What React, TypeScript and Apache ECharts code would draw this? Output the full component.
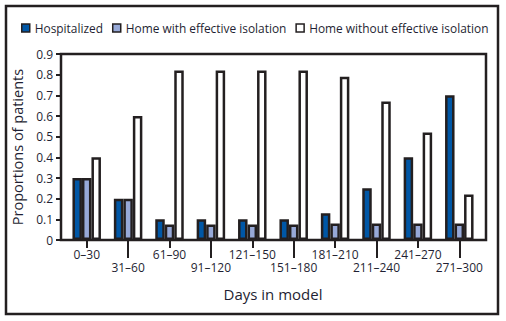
import React, { useEffect, useRef } from "react";
import * as echarts from "echarts";

const categories = ["0–30", "31–60", "61–90", "91–120", "121–150", "151–180", "181–210", "211–240", "241–270", "271–300"];
const hospitalized = [0.3, 0.2, 0.1, 0.1, 0.1, 0.1, 0.13, 0.25, 0.4, 0.7];
const homeWithIsolation = [0.3, 0.2, 0.075, 0.075, 0.075, 0.075, 0.08, 0.08, 0.08, 0.08];
const homeWithoutIsolation = [0.4, 0.6, 0.82, 0.82, 0.82, 0.82, 0.79, 0.67, 0.52, 0.22];
const seriesNames = ["Hospitalized", "Home with effective isolation", "Home without effective isolation"];

const INK = "#231f20";
const TEXT = "#1f1f33";
const FONT = "Open Sans";

export default function App() {
  const ref = useRef<HTMLDivElement>(null);
  useEffect(() => {
    if (!ref.current) return;
    const chart = echarts.init(ref.current, undefined, { renderer: "svg" });
    const barStyle = (color: string) => ({ color, borderColor: INK, borderWidth: 2.5 });
    const xBase = {
      type: "category" as const,
      data: categories,
      position: "bottom" as const,
      offset: 0,
      axisLine: { show: false },
      splitLine: { show: false },
    };
    chart.setOption({
      animation: false,
      textStyle: { fontFamily: FONT, color: TEXT },
      legend: {
        left: 16,
        top: 17,
        width: 490,
        itemWidth: 8,
        itemHeight: 8,
        itemGap: 9,
        icon: "rect",
        itemStyle: { borderColor: INK, borderWidth: 1.5 },
        textStyle: { fontFamily: FONT, fontSize: 11.9, color: TEXT },
        data: seriesNames,
      },
      grid: { left: 66, right: 26, top: 54, bottom: 81 },
      xAxis: [
        {
          ...xBase,
          name: "Days in model",
          nameLocation: "middle",
          nameGap: 46,
          nameTextStyle: { fontFamily: FONT, fontSize: 15, color: TEXT },
          axisTick: {
            show: true,
            alignWithLabel: true,
            interval: (i: number) => i % 2 === 0,
            length: 8,
            lineStyle: { color: INK, width: 2 },
          },
          axisLabel: {
            interval: (i: number) => i % 2 === 0,
            margin: 8,
            fontFamily: FONT,
            fontSize: 12,
            color: TEXT,
          },
        },
        {
          ...xBase,
          axisTick: {
            show: true,
            alignWithLabel: true,
            interval: (i: number) => i % 2 === 1,
            length: 18,
            lineStyle: { color: INK, width: 2 },
          },
          axisLabel: {
            interval: (i: number) => i % 2 === 1,
            margin: 21,
            fontFamily: FONT,
            fontSize: 12,
            color: TEXT,
          },
        },
      ],
      yAxis: {
        type: "value",
        min: 0,
        max: 0.9,
        interval: 0.1,
        offset: 5,
        name: "Proportions of patients",
        nameLocation: "middle",
        nameGap: 30,
        nameTextStyle: { fontFamily: FONT, fontSize: 14.5, color: TEXT },
        axisLine: { show: false },
        splitLine: { show: false },
        axisTick: { show: true, length: 5, lineStyle: { color: INK, width: 2 } },
        axisLabel: {
          margin: 8,
          fontFamily: FONT,
          fontSize: 12,
          color: TEXT,
          formatter: (v: number) => (v === 0 ? "0" : v.toFixed(1)),
        },
      },
      series: [
        { name: seriesNames[0], type: "bar", data: hospitalized, barWidth: 9.5, barGap: "0%", itemStyle: barStyle("#0057a6") },
        { name: seriesNames[1], type: "bar", data: homeWithIsolation, barWidth: 9.5, barGap: "0%", itemStyle: barStyle("#97a9d8") },
        { name: seriesNames[2], type: "bar", data: homeWithoutIsolation, barWidth: 9.5, barGap: "0%", itemStyle: barStyle("#ffffff") },
      ],
      graphic: [
        {
          type: "rect",
          shape: { x: 61, y: 54, width: 425, height: 186 },
          style: { fill: "none", stroke: INK, lineWidth: 2.5 },
          z: 100,
          silent: true,
        },
        {
          type: "rect",
          shape: { x: 6, y: 6, width: 492, height: 308 },
          style: { fill: "none", stroke: INK, lineWidth: 2.5 },
          z: 100,
          silent: true,
        },
      ],
    });
    return () => chart.dispose();
  }, []);
  return <div ref={ref} style={{ width: 506, height: 321, position: "absolute", left: 0, top: 0 }} />;
}
